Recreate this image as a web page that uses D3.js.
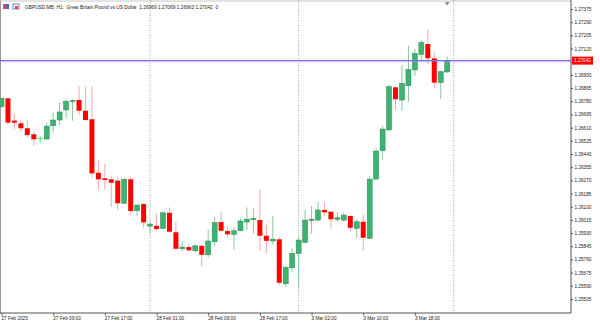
<!DOCTYPE html>
<html>
<head>
<meta charset="utf-8">
<script src="https://cdn.jsdelivr.net/npm/d3@7"></script>
<style>
html, body { margin: 0; padding: 0; background: #fff; overflow: hidden; }
svg { display: block; }
</style>
</head>
<body>
<script>
// GBPUSD H1 candles, 27 Feb 01:00 .. 3 Mar 23:00 (one entry per bar)
var opens = [1.26745,1.26799,1.26655,1.26638,1.26606,1.26567,1.26541,1.26537,1.26622,1.26659,
  1.26724,1.26777,1.26788,1.26719,1.26664,1.26319,1.26283,1.26277,1.26268,1.26122,
  1.26277,1.26074,1.26117,1.25975,1.25977,1.25960,1.26061,1.25935,1.25829,1.25840,
  1.25816,1.25848,1.25790,1.25874,1.26001,1.25943,1.25922,1.25945,1.26001,1.26016,
  1.26014,1.25913,1.25879,1.25890,1.25603,1.25706,1.25799,1.25870,1.26010,1.26014,
  1.26079,1.26068,1.26019,1.26014,1.26040,1.25960,1.26003,1.25896,1.26278,1.26461,
  1.26595,1.26870,1.26788,1.26880,1.26982,1.27083,1.27149,1.27057,1.26900,1.26969];
var highs = [1.26804,1.26804,1.26698,1.26664,1.26659,1.26584,1.26556,1.26642,1.26706,1.26771,
  1.26793,1.26793,1.26878,1.26874,1.26878,1.26401,1.26375,1.26293,1.26289,1.26287,
  1.26289,1.26115,1.26122,1.26003,1.26057,1.26066,1.26096,1.26003,1.25877,1.25859,
  1.25855,1.25855,1.25950,1.26035,1.26066,1.25975,1.25967,1.26025,1.26096,1.26089,
  1.26212,1.25982,1.26040,1.25906,1.25717,1.25831,1.25906,1.26079,1.26104,1.26132,
  1.26126,1.26070,1.26064,1.26061,1.26046,1.26019,1.26046,1.26298,1.26480,1.26622,
  1.26885,1.26874,1.27014,1.27138,1.27115,1.27175,1.27244,1.27096,1.26977,1.27069];
var lows = [1.26740,1.26631,1.26599,1.26584,1.26548,1.26493,1.26509,1.26530,1.26577,1.26627,
  1.26670,1.26655,1.26691,1.26655,1.26291,1.26212,1.26212,1.26098,1.26079,1.26117,
  1.26046,1.26040,1.25967,1.25928,1.25943,1.25956,1.25932,1.25827,1.25816,1.25808,
  1.25803,1.25717,1.25773,1.25848,1.25935,1.25900,1.25825,1.25943,1.25950,1.25928,
  1.25816,1.25799,1.25857,1.25595,1.25584,1.25681,1.25580,1.25864,1.25928,1.26003,
  1.26040,1.25956,1.26003,1.26003,1.25939,1.25900,1.25816,1.25893,1.26275,1.26406,
  1.26590,1.26724,1.26719,1.26777,1.26945,1.27035,1.27020,1.26864,1.26793,1.26963];
var closes = [1.26799,1.26642,1.26642,1.26606,1.26562,1.26535,1.26541,1.26620,1.26659,1.26711,
  1.26780,1.26784,1.26719,1.26659,1.26315,1.26277,1.26272,1.26255,1.26122,1.26277,
  1.26072,1.26111,1.25999,1.25988,1.25956,1.26061,1.25939,1.25829,1.25840,1.25819,
  1.25848,1.25790,1.25879,1.25997,1.25945,1.25922,1.25945,1.26008,1.26020,1.26025,
  1.25913,1.25880,1.25891,1.25610,1.25709,1.25799,1.25885,1.26014,1.26020,1.26079,
  1.26064,1.26019,1.26029,1.26046,1.25964,1.26003,1.25900,1.26278,1.26459,1.26601,
  1.26874,1.26793,1.26896,1.26986,1.27089,1.27160,1.27057,1.26900,1.26971,1.27042];

// time axis labels and the bar each one sits on
var timeLabels = ["27 Feb 2025","27 Feb 09:00","27 Feb 17:00","28 Feb 01:00","28 Feb 09:00",
  "28 Feb 17:00","3 Mar 02:00","3 Mar 10:00","3 Mar 18:00"];
var timeLabelBars = [0, 8, 16, 24, 32, 40, 48, 56, 64];
// day separators (first bar of each day)
var separatorBars = [23, 46, 70];

var priceTicks = [1.27375,1.27290,1.27205,1.27120,1.27035,1.26950,1.26865,1.26780,1.26695,
  1.26610,1.26525,1.26440,1.26355,1.26270,1.26185,1.26100,1.26015,1.25930,1.25845,
  1.25760,1.25675,1.25590,1.25505];
var lastPrice = 1.27042;
var title = "GBPUSD.MB, H1:  Great Britain Pound vs US Dollar  1.26969 1.27069 1.26963 1.27042  0";

// layout
var svgWidth = 600, svgHeight = 321;
var plotRight = 571, plotBottom = 313;
var fontFam = "'Liberation Sans', Arial, sans-serif";

var svg = d3.select("body").append("svg")
  .attr("width", svgWidth)
  .attr("height", svgHeight);

svg.append("rect").attr("width", svgWidth).attr("height", svgHeight).attr("fill", "#fff");

var x = d3.scaleLinear().domain([0, 69]).range([1.5, 447.2]);
var y = d3.scaleLinear().domain([1.25505, 1.27375]).range([299, 9]);

// frame: left + top lines
svg.append("line").attr("x1", 0.5).attr("x2", 0.5).attr("y1", 0).attr("y2", plotBottom)
  .attr("stroke", "#9a9a9a").attr("stroke-width", 1);
svg.append("line").attr("x1", 0).attr("x2", plotRight).attr("y1", 1).attr("y2", 1)
  .attr("stroke", "#c8c8c8").attr("stroke-width", 1);

// period separators
svg.selectAll(".sep")
  .data(separatorBars)
  .enter().append("line")
  .attr("class", "sep")
  .attr("x1", d => x(d)).attr("x2", d => x(d))
  .attr("y1", 0).attr("y2", plotBottom)
  .attr("stroke", "#8a8a8a")
  .attr("stroke-width", 0.8)
  .attr("stroke-dasharray", "1,1.5");

var bars = d3.range(opens.length);

// wicks
svg.selectAll(".wick")
  .data(bars)
  .enter().append("line")
  .attr("class", "wick")
  .attr("x1", i => x(i)).attr("x2", i => x(i))
  .attr("y1", i => y(highs[i])).attr("y2", i => y(lows[i]))
  .attr("stroke", i => closes[i] > opens[i] ? "#79c28f" : (closes[i] < opens[i] ? "#eda0a0" : "#66ee66"))
  .attr("stroke-width", 0.9);

// bodies
svg.selectAll(".body")
  .data(bars.filter(i => closes[i] !== opens[i]))
  .enter().append("rect")
  .attr("class", "body")
  .attr("x", i => x(i) - 2.5)
  .attr("width", 5)
  .attr("y", i => y(Math.max(opens[i], closes[i])))
  .attr("height", i => Math.max(1, Math.abs(y(opens[i]) - y(closes[i]))))
  .attr("fill", i => closes[i] > opens[i] ? "#3cb371" : "#ff0000")
  .attr("stroke", i => closes[i] > opens[i] ? "#2e8b57" : "none")
  .attr("stroke-width", 0.5);

// doji bars
svg.selectAll(".doji")
  .data(bars.filter(i => closes[i] === opens[i]))
  .enter().append("line")
  .attr("class", "doji")
  .attr("x1", i => x(i) - 2.5).attr("x2", i => x(i) + 2.5)
  .attr("y1", i => y(closes[i])).attr("y2", i => y(closes[i]))
  .attr("stroke", "#33dd33").attr("stroke-width", 1);

// bid / ask lines
svg.append("line").attr("x1", 0).attr("x2", plotRight)
  .attr("y1", y(lastPrice) + 1.3).attr("y2", y(lastPrice) + 1.3)
  .attr("stroke", "#ff8080").attr("stroke-opacity", 0.45).attr("stroke-width", 0.8);
svg.append("line").attr("x1", 0).attr("x2", plotRight)
  .attr("y1", y(lastPrice)).attr("y2", y(lastPrice))
  .attr("stroke", "#6f6ff2").attr("stroke-width", 1.2);

// shift marker at top
svg.append("path")
  .attr("d", d3.line()([[x(69) - 2.5, 2], [x(69) + 2.5, 2], [x(69), 5.5]]) + "Z")
  .attr("fill", "#8c8c8c");

// right price axis
var rightAxis = d3.axisRight(y)
  .tickValues(priceTicks)
  .tickFormat(d3.format(".5f"))
  .tickSize(2)
  .tickPadding(1.5);

var ya = svg.append("g")
  .attr("transform", `translate(${plotRight}, 0)`)
  .call(rightAxis);
ya.select(".domain").attr("d", `M0,0V${plotBottom}`).attr("stroke", "#555");
ya.selectAll(".tick line").attr("stroke", "#555");
ya.selectAll("text").attr("fill", "#222").style("font", `4.7px ${fontFam}`);

// bottom time axis
var bottomAxis = d3.axisBottom(x)
  .tickValues(timeLabelBars)
  .tickFormat((d, i) => timeLabels[i])
  .tickSize(2.5)
  .tickPadding(1);

var xa = svg.append("g")
  .attr("transform", `translate(0, ${plotBottom})`)
  .call(bottomAxis);
xa.select(".domain").attr("d", `M0,0H${plotRight}`).attr("stroke", "#555");
xa.selectAll(".tick line").attr("stroke", "#555");
xa.selectAll("text")
  .attr("text-anchor", "start")
  .attr("dx", -0.5)
  .attr("fill", "#222")
  .style("font", `4.7px ${fontFam}`);

// current price label
var py = y(lastPrice);
svg.append("rect").attr("x", plotRight + 1).attr("y", py - 4)
  .attr("width", 21).attr("height", 8).attr("fill", "#ff0000");
svg.append("text").attr("x", plotRight + 3).attr("y", py + 1.7)
  .attr("fill", "#fff").style("font", `4.7px ${fontFam}`).text(d3.format(".5f")(lastPrice));

// title with the two little icons
svg.append("rect").attr("x", 3).attr("y", 4).attr("width", 3).attr("height", 5).attr("fill", "#e0484c");
svg.append("rect").attr("x", 6).attr("y", 4).attr("width", 3).attr("height", 5).attr("fill", "#4a66c8");
svg.append("rect").attr("x", 13).attr("y", 4).attr("width", 6).attr("height", 5)
  .attr("fill", "#fff").attr("stroke", "#4a66c8").attr("stroke-width", 0.8);
svg.append("rect").attr("x", 15).attr("y", 6).attr("width", 3).attr("height", 3).attr("fill", "#e0484c");
svg.append("text").attr("x", 25).attr("y", 8.5)
  .attr("fill", "#222").style("font", `4.8px ${fontFam}`)
  .attr("xml:space", "preserve")
  .style("white-space", "pre")
  .text(title);
</script>
</body>
</html>
